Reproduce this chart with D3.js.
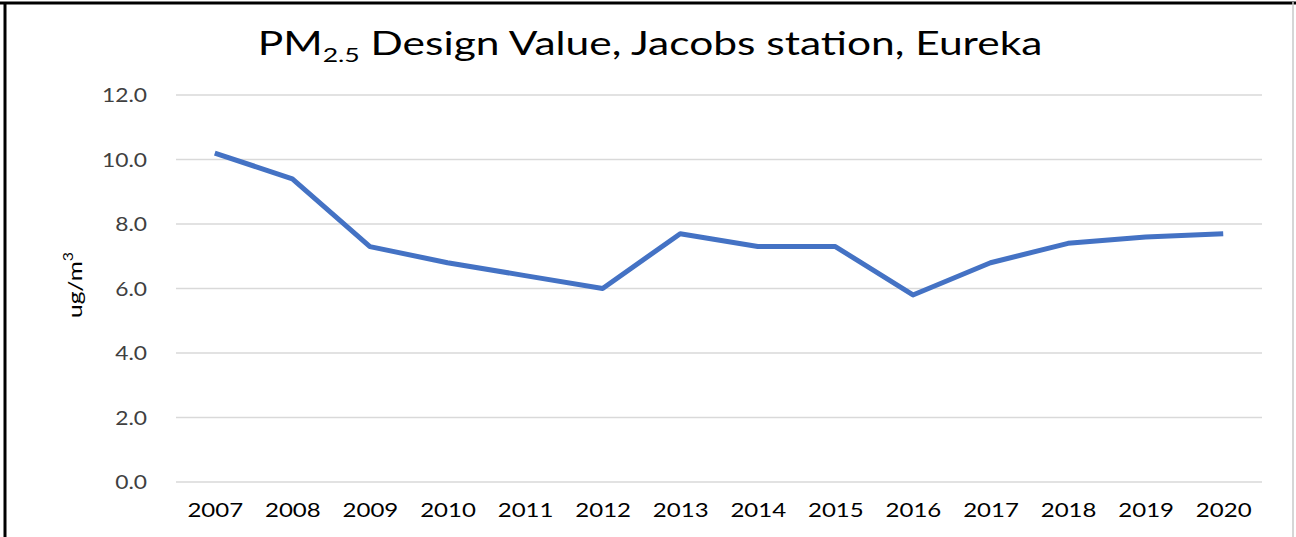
<!DOCTYPE html>
<html><head><meta charset="utf-8">
<script src="https://cdn.jsdelivr.net/npm/d3@7"></script>
<style>body{margin:0;background:#fff;} svg{display:block;}</style>
</head><body>
<svg id="c" width="1296" height="537"></svg>
<script>
const years = ["2007","2008","2009","2010","2011","2012","2013","2014","2015","2016","2017","2018","2019","2020"];
const values = [10.2, 9.4, 7.3, 6.8, 6.4, 6.0, 7.7, 7.3, 7.3, 5.8, 6.8, 7.4, 7.6, 7.7];
const yTicks = [0, 2, 4, 6, 8, 10, 12];

(function(){
const svg = d3.select("#c");
const font = "Lato, 'Open Sans', sans-serif";
const pLeft = 176, pRight = 1262, pTop = 95, pBottom = 482;

function stretch(sel, k) {
  sel.each(function() {
    const w = this.getComputedTextLength();
    d3.select(this).attr("textLength", w * k).attr("lengthAdjust", "spacingAndGlyphs");
  });
}

// frame
svg.append("line").attr("x1",0).attr("x2",1296).attr("y1",3).attr("y2",3).attr("stroke","#000").attr("stroke-width",3);
svg.append("line").attr("x1",5).attr("x2",5).attr("y1",2).attr("y2",537).attr("stroke","#000").attr("stroke-width",3);
svg.append("line").attr("x1",1293).attr("x2",1293).attr("y1",2).attr("y2",537).attr("stroke","#c8c8c8").attr("stroke-width",1.5);

const x = d3.scalePoint().domain(years).range([pLeft, pRight]).padding(0.5);
const y = d3.scaleLinear().domain([0, 12]).range([pBottom, pTop]);

// grid
svg.append("g").selectAll("line").data(yTicks).join("line")
  .attr("x1", pLeft).attr("x2", pRight)
  .attr("y1", d => y(d)).attr("y2", d => y(d))
  .attr("stroke", "#d9d9d9").attr("stroke-width", 1.5);

// y axis labels
const yAxis = d3.axisLeft(y).tickValues(yTicks).tickFormat(d3.format(".1f")).tickSize(0).tickPadding(0);
const gy = svg.append("g").attr("transform", "translate(147,0)").call(yAxis);
gy.select(".domain").remove();
gy.selectAll("text").attr("font-family", font).attr("font-size", 19).attr("fill", "#404040").attr("dy", "0.35em");
stretch(gy.selectAll("text"), 1.2);

// x axis labels
const xAxis = d3.axisBottom(x).tickSize(0).tickPadding(0);
const gx = svg.append("g").attr("transform", "translate(0," + pBottom + ")").call(xAxis);
gx.select(".domain").remove();
gx.selectAll("text").attr("font-family", font).attr("font-size", 20).attr("fill", "#000").attr("dy", null).attr("y", 35);
stretch(gx.selectAll("text"), 1.2);

// line
const line = d3.line().x((d, i) => x(years[i])).y(d => y(d));
svg.append("path").datum(values).attr("d", line)
  .attr("fill", "none").attr("stroke", "#4472C4").attr("stroke-width", 5)
  .attr("stroke-linejoin", "round");

// title
const tg = svg.append("g").attr("transform", "translate(650,55)");
const t = tg.append("text").attr("x", 0).attr("y", 0).attr("text-anchor", "middle")
  .attr("font-family", font).attr("font-size", 32).attr("fill", "#000");
t.append("tspan").text("PM");
t.append("tspan").attr("font-size", 20).attr("dy", 7).text("2.5");
t.append("tspan").attr("dy", -7).text(" Design Value, Jacobs station, Eureka");
const tw = t.node().getBBox().width;
tg.attr("transform", "translate(650,55) scale(" + (785 / tw) + ",1)");

// y label
const ylg = svg.append("g").attr("transform", "translate(82,285) rotate(-90)");
const yl = ylg.append("text").attr("text-anchor", "middle").attr("font-family", font).attr("font-size", 20).attr("fill", "#000");
yl.append("tspan").text("ug/m");
yl.append("tspan").attr("font-size", 13).attr("dy", -9).text("3");
const yw = yl.node().getBBox().width;
ylg.attr("transform", "translate(82,285) rotate(-90) scale(" + (66 / yw) + ",1)");
})();
</script>
</body></html>
